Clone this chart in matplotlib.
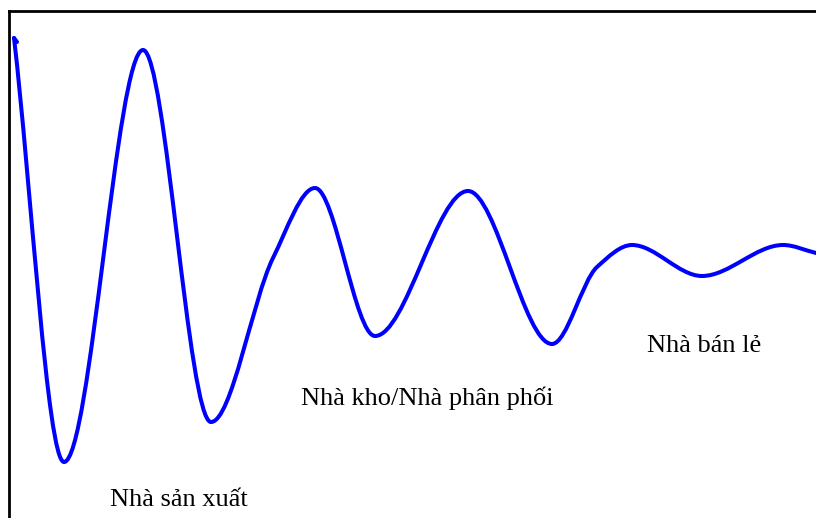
import numpy as np
import matplotlib.pyplot as plt
from matplotlib.path import Path
from matplotlib.patches import PathPatch

# turning points: x in pixels from the left,
# y = height above the bottom edge (plus the two shoulders on rising parts)
curve_x = [14, 64, 143, 211, 273, 315, 375, 468, 552, 597, 632, 702, 783, 816]
curve_y = [480, 56, 468, 96, 260, 330, 182, 327, 174, 251, 273, 242, 273, 265]
# little hook at the start of the stroke
hook_x = [17, 14]
hook_y = [476, 480]

labels = ["Nhà sản xuất", "Nhà kho/Nhà phân phối", "Nhà bán lẻ"]
label_x = [110, 301, 647]
label_y = [12, 113, 166]


def smooth_path(xs, ys):
    """Monotone cubic (pchip-style) Bezier path through the points."""
    x = np.asarray(xs, float)
    y = np.asarray(ys, float)
    h = np.diff(x)
    d = np.diff(y) / h
    m = np.zeros_like(y)
    m[0], m[-1] = d[0], d[-1]
    for k in range(1, len(x) - 1):
        if d[k - 1] * d[k] > 0:
            w1 = 2 * h[k] + h[k - 1]
            w2 = h[k] + 2 * h[k - 1]
            m[k] = (w1 + w2) / (w1 / d[k - 1] + w2 / d[k])
    verts = [(x[0], y[0])]
    codes = [Path.MOVETO]
    for k in range(len(x) - 1):
        verts += [(x[k] + h[k] / 3, y[k] + m[k] * h[k] / 3),
                  (x[k + 1] - h[k] / 3, y[k + 1] - m[k + 1] * h[k] / 3),
                  (x[k + 1], y[k + 1])]
        codes += [Path.CURVE4] * 3
    return Path(verts, codes)


fig = plt.figure(figsize=(8.16, 5.18), dpi=100)
ax = fig.add_axes([9 / 816, 0, 807 / 816, 507 / 518])
ax.set_xlim(9, 816)
ax.set_ylim(0, 507)

ax.add_patch(PathPatch(smooth_path(curve_x, curve_y), facecolor="none",
                       edgecolor="#0000ff", lw=2.9, capstyle="round",
                       joinstyle="round", clip_on=False))
ax.plot(hook_x, hook_y, color="#0000ff", lw=2.9, solid_capstyle="round")

for text, x, y in zip(labels, label_x, label_y):
    ax.text(x, y, text, fontsize=19, family="Liberation Serif",
            ha="left", va="baseline", color="black")

ax.set_xticks([])
ax.set_yticks([])
for side in ["right", "bottom"]:
    ax.spines[side].set_visible(False)
for side in ["left", "top"]:
    ax.spines[side].set_linewidth(2)
    ax.spines[side].set_color("black")

fig.savefig("out.png", dpi=100)
